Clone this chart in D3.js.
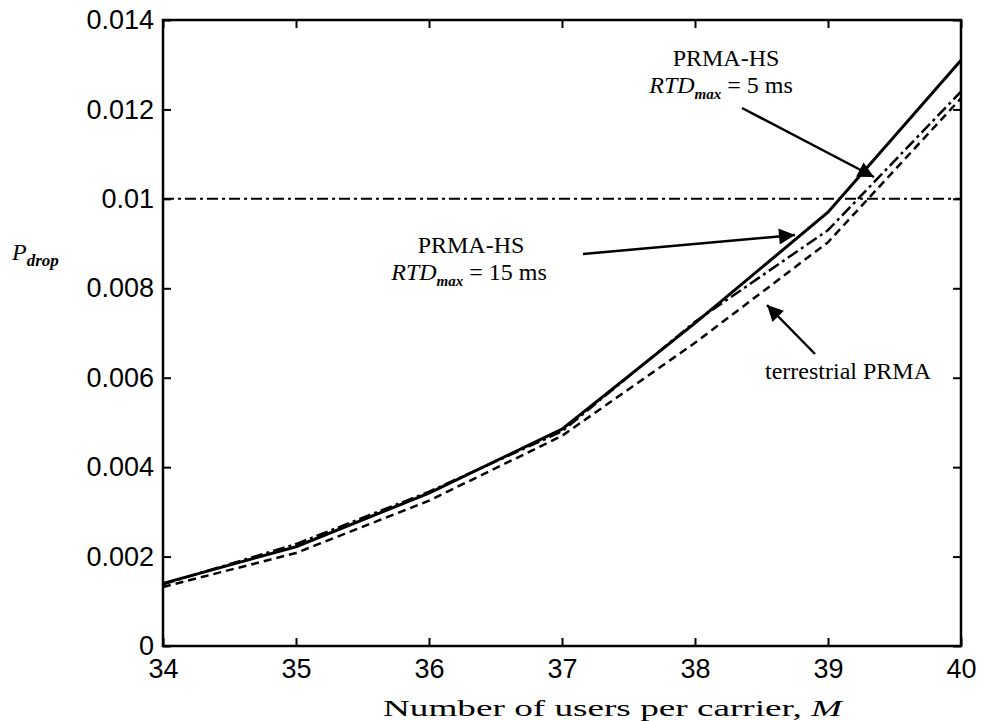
<html>
<head>
<meta charset="utf-8">
<title>P_drop vs M</title>
<script src="https://cdnjs.cloudflare.com/ajax/libs/d3/7.8.5/d3.min.js"></script>
<style>
  body { margin: 0; background: #fff; }
  .tick-label { font-family: "Liberation Sans", Arial, sans-serif; font-size: 27px; fill: #000; }
  .note { font-family: "Liberation Serif", "Times New Roman", serif; font-size: 24px; fill: #000; }
  .curve { fill: none; stroke: #000; }
</style>
</head>
<body>
<script>
// data
const users = [34, 35, 36, 37, 38, 39, 40]
const prmaHsSolid = [0.00140, 0.00222, 0.00342, 0.00485, 0.00722, 0.00970, 0.01310]
const prmaHsDashDot = [0.00138, 0.00228, 0.00345, 0.00480, 0.00725, 0.00930, 0.01240]
const terrestrial = [0.00132, 0.00208, 0.00325, 0.00470, 0.00678, 0.00903, 0.01225]
const threshold = 0.01
const xTicks = [34, 35, 36, 37, 38, 39, 40]
const yTicks = [0, 0.002, 0.004, 0.006, 0.008, 0.01, 0.012, 0.014]
const yTickLabels = ["0", "0.002", "0.004", "0.006", "0.008", "0.01", "0.012", "0.014"]

const w = 985, h = 721
const mLeft = 163, mRight = 961, mTop = 20, mBottom = 646

const svg = d3.select("body").append("svg")
  .attr("width", w).attr("height", h)

const x = d3.scaleLinear().domain([34, 40]).range([mLeft, mRight])
const y = d3.scaleLinear().domain([0, 0.014]).range([mBottom, mTop])

// inward ticks on all four sides
const tl = 8
const axisStyle = g => {
  g.select(".domain").remove()
  g.selectAll(".tick line").attr("stroke", "#000").attr("stroke-width", 2)
  g.selectAll(".tick text").attr("class", "tick-label")
}
svg.append("g").attr("transform", `translate(0,${mBottom})`)
  .call(d3.axisBottom(x).tickValues(xTicks).tickFormat(d3.format("d")).tickSize(-tl).tickPadding(14))
  .call(axisStyle)
  .call(g => g.selectAll(".tick text").attr("dy", "0.72em").attr("y", 13))
svg.append("g").attr("transform", `translate(0,${mTop})`)
  .call(d3.axisTop(x).tickValues(xTicks).tickFormat("").tickSize(-tl))
  .call(axisStyle)
svg.append("g").attr("transform", `translate(${mLeft},0)`)
  .call(d3.axisLeft(y).tickValues(yTicks).tickFormat((d, i) => yTickLabels[i]).tickSize(-tl).tickPadding(9))
  .call(axisStyle)
svg.append("g").attr("transform", `translate(${mRight},0)`)
  .call(d3.axisRight(y).tickValues(yTicks).tickFormat("").tickSize(-tl))
  .call(axisStyle)

svg.append("rect")
  .attr("x", mLeft).attr("y", mTop)
  .attr("width", mRight - mLeft).attr("height", mBottom - mTop)
  .attr("fill", "none").attr("stroke", "#000").attr("stroke-width", 2.5)

// threshold line
svg.append("line")
  .attr("x1", x(34)).attr("x2", x(40))
  .attr("y1", y(threshold)).attr("y2", y(threshold))
  .attr("stroke", "#000").attr("stroke-width", 2)
  .attr("stroke-dasharray", "11,4,3,4")

const line = d3.line().x((d, i) => x(users[i])).y(d => y(d))

svg.append("path").datum(terrestrial).attr("class", "curve")
  .attr("d", line).attr("stroke-width", 2.5).attr("stroke-dasharray", "8,5")
svg.append("path").datum(prmaHsDashDot).attr("class", "curve")
  .attr("d", line).attr("stroke-width", 2.5).attr("stroke-dasharray", "12,4,3,4")
svg.append("path").datum(prmaHsSolid).attr("class", "curve")
  .attr("d", line).attr("stroke-width", 3)

// arrows
const defs = svg.append("defs")
defs.append("marker").attr("id", "head")
  .attr("viewBox", "0 0 10 10").attr("refX", 10).attr("refY", 5)
  .attr("markerWidth", 22).attr("markerHeight", 16)
  .attr("markerUnits", "userSpaceOnUse").attr("orient", "auto")
  .append("path").attr("d", "M0,0L10,5L0,10Z").attr("fill", "#000")

const arrow = (x1, y1, x2, y2) => svg.append("line")
  .attr("x1", x1).attr("y1", y1).attr("x2", x2).attr("y2", y2)
  .attr("stroke", "#000").attr("stroke-width", 2.5)
  .attr("marker-end", "url(#head)")
arrow(742, 108, 874, 177)
arrow(583, 254, 795, 235)
arrow(815, 354, 767, 305)

// annotations
const note = (cx, yy) => svg.append("text").attr("class", "note")
  .attr("x", cx).attr("y", yy).attr("text-anchor", "middle")
const rtd = (cx, yy, val) => {
  const t = note(cx, yy)
  t.append("tspan").attr("font-style", "italic").text("RTD")
  t.append("tspan").attr("font-style", "italic").attr("font-weight", "bold")
    .attr("font-size", 15).attr("dy", 6).text("max")
  t.append("tspan").attr("dy", -6).text(" = " + val + " ms")
}
note(726, 66).text("PRMA-HS")
rtd(721, 93, 5)
note(471, 253).text("PRMA-HS")
rtd(469, 280, 15)
note(848, 379).text("terrestrial PRMA")

// axis labels
const yl = svg.append("text").attr("class", "note")
  .attr("x", 12).attr("y", 260).attr("font-size", 28)
yl.append("tspan").attr("font-style", "italic").text("P")
yl.append("tspan").attr("font-style", "italic").attr("font-weight", "bold")
  .attr("font-size", 17).attr("dy", 6).text("drop")

const xl = svg.append("text").attr("class", "note")
  .attr("x", 383).attr("y", 716).attr("font-size", 31)
  .attr("textLength", 459).attr("lengthAdjust", "spacingAndGlyphs")
xl.append("tspan").text("Number of users per carrier, ")
xl.append("tspan").attr("font-style", "italic").text("M")
</script>
</body>
</html>
